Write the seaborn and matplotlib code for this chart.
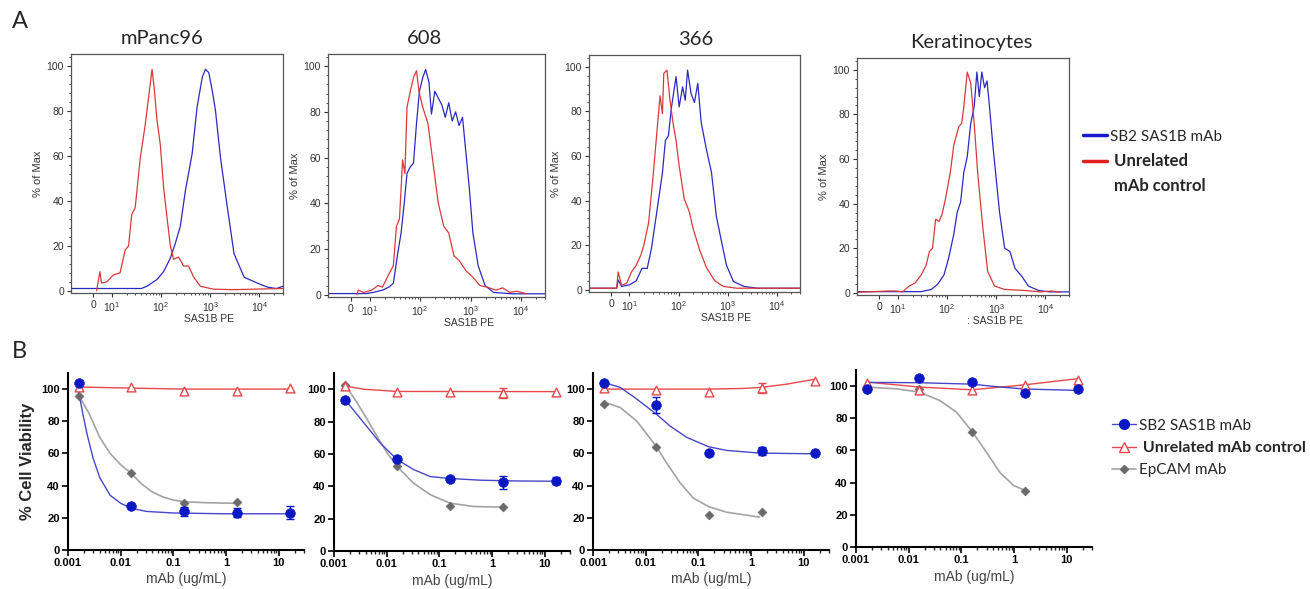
import numpy as np
import seaborn as sns
import matplotlib
matplotlib.use("Agg")
import matplotlib.pyplot as plt
from matplotlib.ticker import (SymmetricalLogLocator, LogLocator, NullFormatter,
                               AutoMinorLocator)
from matplotlib.lines import Line2D

# ---------------- panel A: flow histograms (% of Max vs SAS1B PE) ----------------
hist_titles = ["mPanc96", "608", "366", "Keratinocytes"]
hist_xlabels = ["SAS1B PE", "SAS1B PE", "SAS1B PE", ": SAS1B PE"]
hist_ticks = [0, 10, 100, 1000, 10000]
hist_ticklabels = ["0", r"$\mathregular{10^1}$", r"$\mathregular{10^2}$",
                   r"$\mathregular{10^3}$", r"$\mathregular{10^4}$"]

mpanc_blue_x = [-12, 40, 52, 83, 113, 155, 195, 246, 316, 430, 540, 690, 800, 935,
                1100, 1280, 1620, 2230, 3040, 4880, 9100, 14500, 22000, 30000]
mpanc_blue_y = [1, 1, 2, 5, 8.5, 14.5, 21, 28.5, 45, 61, 81.5, 95, 98.5, 97,
                89, 80, 59, 37, 16.5, 6, 3.4, 1.6, 1, 2]
mpanc_red_x = [1.8, 3.6, 4.5, 7.3, 10.8, 14.8, 18.7, 22, 25.6, 30, 38, 48, 56, 66, 73,
               83, 97, 113, 132, 155, 181, 228, 288, 363, 464, 630, 1170, 3000, 30000]
mpanc_red_y = [0, 8.5, 3.4, 4, 7, 8, 18, 20, 34, 37, 59, 74, 86, 98.5, 90,
               76, 65, 46, 33, 20, 14, 15, 11, 11, 6, 2, 0.7, 0.5, 1]

c608_blue_x = [-12, 8, 11.8, 18, 24, 29.5, 36, 42, 48, 55, 64, 74, 85, 97, 113, 129,
               150, 168, 196, 230, 270, 316, 370, 433, 507, 593, 694, 812, 952, 1115,
               1420, 1940, 2870, 6800, 30000]
c608_blue_y = [0.5, 0.5, 1, 2, 3.3, 5, 18, 27, 39, 53, 56, 57.5, 75, 89, 95, 98.5,
               93, 79, 89, 86, 83, 77.6, 84, 76, 80, 74, 77.6, 62, 46, 27,
               12.7, 4, 1, 0.4, 0.4]
c608_red_x = [3.2, 4, 6.8, 11, 14.6, 18, 24, 29.5, 34, 39, 45, 50, 55, 64, 74, 85, 95,
              113, 143, 182, 230, 294, 370, 470, 593, 812, 1115, 1540, 2150, 3200,
              4350, 6000, 8200, 13000]
c608_red_y = [0, 2, 1, 2, 4, 3.3, 9, 12.7, 30, 33, 59, 53, 82, 89, 95, 98, 89,
              82, 75, 57, 40, 30, 27, 17, 15, 10.5, 7.6, 4, 3.3, 2,
              3, 1, 1.5, 0.4]

c366_blue_x = [-12, 3, 3.8, 5.7, 10, 13.7, 18, 23, 28, 35, 47, 54, 62, 72, 79, 89, 103,
               121, 137, 153, 180, 211, 247, 290, 370, 470, 590, 755, 950, 1320, 2150,
               4100, 30000]
c366_blue_y = [0.7, 0.7, 4.4, 1.5, 2.2, 4, 9.6, 9.6, 18.5, 33, 52.6, 67, 69, 82, 88,
               95.6, 82, 91, 85, 98.5, 88, 84, 92.6, 75, 63, 52.6, 33, 21.5, 11, 3.7,
               1.5, 0.7, 0.7]
c366_red_x = [-12, 3, 3.8, 5.7, 8.5, 11, 13.7, 17, 19.6, 24.5, 30, 35, 42, 47, 50, 58,
              67, 77, 89, 103, 131, 166, 195, 268, 370, 550, 815, 1540, 30000]
c366_red_y = [0.7, 0.7, 8, 2, 3, 8, 11, 15.5, 20, 30, 50, 67, 87, 79, 97, 98.5,
              85, 75, 67, 55.5, 40.7, 35, 28, 18, 10, 4, 1.5, 0.7, 0.7]

ker_blue_x = [-12, 30, 48, 64, 87, 108, 137, 161, 189, 220, 258, 304, 357, 405, 453,
              510, 580, 650, 730, 855, 1000, 1170, 1480, 1900, 2400, 3300, 4500, 7300,
              12000, 30000]
ker_blue_y = [0.5, 0.5, 1.5, 3.7, 8, 15.5, 26, 36, 40.6, 54, 61, 76, 83.5, 99, 88,
              99, 92, 95, 83.5, 66, 51, 36, 20, 18.5, 11, 7.4, 3, 1, 0.4, 0.4]
ker_red_x = [-12, 5, 9, 12.6, 17, 22.6, 30, 38, 44, 51, 59, 69, 79, 93, 117, 137, 174,
             199, 220, 258, 304, 357, 420, 530, 670, 925, 1480, 3900, 8000, 13000,
             20000]
ker_red_y = [0.2, 0.8, 0.8, 0.4, 3, 4.4, 8, 12.5, 18.5, 20, 33, 32, 35, 42, 54, 66,
             74.6, 76, 83.5, 99, 94, 76, 54, 30, 9.6, 3, 1.5, 1, 0.4, 0.8, 0.3]

# ---------------- panel B: viability vs mAb concentration ----------------
conc = [0.0016, 0.016, 0.16, 1.6, 16]
sb2_1 = [104, 27.5, 24, 23.3, 23.3]
sb2_err_1 = [0, 1, 3, 3, 4]
ctrl_1 = [101, 101, 99, 99, 100.5]
ctrl_err_1 = [0, 0, 0, 0, 0]
epcam_1 = [96, 48, 29.5, 29.8]

sb2_2 = [93.5, 57, 44.5, 42.5, 43.5]
sb2_err_2 = [0, 1, 1.5, 4, 2]
ctrl_2 = [102, 98.5, 98.5, 97.5, 98.5]
ctrl_err_2 = [0, 0, 0, 3, 0]
epcam_2 = [102.5, 52.5, 28, 27]

sb2_3 = [103.5, 90, 60, 61.5, 60.5]
sb2_err_3 = [0, 5, 0, 2.5, 0]
ctrl_3 = [100.5, 99.5, 98, 100.5, 105]
ctrl_err_3 = [0, 0, 0, 3, 0]
epcam_3 = [91, 64, 22, 23.5]

sb2_4 = [98, 105, 102.5, 96, 98.5]
sb2_err_4 = [0, 0, 0, 0, 0]
ctrl_4 = [102, 97.5, 97.5, 100.5, 104]
ctrl_err_4 = [0, 0, 0, 0, 0]
epcam_4 = [97.5, 98.5, 71.5, 35]

# fitted curves
sb2_fit_x_1 = [0.0016, 0.0019, 0.0023, 0.003, 0.004, 0.0063, 0.01, 0.016, 0.03, 0.1, 1, 16]
sb2_fit_y_1 = [98, 85, 72, 57, 45, 34, 29, 26, 24, 23, 22.5, 22.5]
ctrl_fit_x_1 = [0.0016, 0.016, 0.16, 16]
ctrl_fit_y_1 = [101.3, 100.6, 100, 100]
ep_fit_x_1 = [0.0016, 0.0025, 0.004, 0.0063, 0.01, 0.016, 0.025, 0.04, 0.063, 0.1, 0.16, 0.4, 1.6]
ep_fit_y_1 = [96, 85, 70, 60, 53, 47.5, 41, 36, 33, 31, 30, 29.4, 29]

sb2_fit_x_2 = [0.0016, 0.0036, 0.0074, 0.0155, 0.032, 0.067, 0.158, 0.61, 2.6, 16]
sb2_fit_y_2 = [93.75, 79.6, 67, 56.7, 50.4, 46, 44.8, 43.75, 43.3, 43.1]
ctrl_fit_x_2 = [0.0016, 0.0036, 0.0155, 16]
ctrl_fit_y_2 = [102, 100, 98.6, 98.5]
ep_fit_x_2 = [0.0016, 0.0027, 0.0042, 0.0065, 0.01, 0.0155, 0.032, 0.067, 0.158, 0.45, 1.6]
ep_fit_y_2 = [103, 92, 81.7, 71, 61, 52.5, 42, 34.8, 29.6, 27.5, 27.1]

sb2_fit_x_3 = [0.0016, 0.0033, 0.0068, 0.016, 0.029, 0.06, 0.155, 0.34, 1.5, 15.3]
sb2_fit_y_3 = [104.2, 101, 93.75, 84.4, 77, 70, 64.2, 61.9, 60.2, 59.8]
ctrl_fit_x_3 = [0.0016, 0.155, 0.7, 1.5, 4.6, 15.3]
ctrl_fit_y_3 = [100, 100, 100.4, 101, 103, 106]
ep_fit_x_3 = [0.0016, 0.0033, 0.0068, 0.016, 0.025, 0.045, 0.08, 0.155, 0.34, 1.45]
ep_fit_y_3 = [92, 88.5, 80, 64.2, 54, 41.7, 32.3, 27, 23.5, 20.4]

sb2_fit_x_4 = [0.0016, 0.016, 0.16, 0.5, 1.6, 16]
sb2_fit_y_4 = [102.3, 102.1, 101.2, 99.5, 98.2, 97.3]
ctrl_fit_x_4 = [0.0016, 0.016, 0.16, 1.6, 16]
ctrl_fit_y_4 = [102.5, 99.4, 97.7, 100.8, 104.6]
ep_fit_x_4 = [0.0016, 0.0059, 0.016, 0.039, 0.081, 0.16, 0.30, 0.54, 0.97, 1.6]
ep_fit_y_4 = [99.4, 98.3, 96.25, 91, 83.75, 71.7, 58.75, 46.25, 38.3, 35.2]

conc_ticks = [0.001, 0.01, 0.1, 1, 10]
conc_ticklabels = ["0.001", "0.01", "0.1", "1", "10"]
viab_ticks = [0, 20, 40, 60, 80, 100]

# ---------------- style ----------------
sns.set_style("ticks")
plt.rcParams["font.family"] = ["Liberation Sans", "DejaVu Sans"]
plt.rcParams["mathtext.fontset"] = "custom"
plt.rcParams["mathtext.rm"] = "Liberation Sans"

HBLUE, HRED = "#2a2abf", "#d83a3a"
BLUE_M, BLUE_L = "#0a18c4", "#4747c8"
RED = "#e8474c"
GRAY_M, GRAY_L = "#6a6a6a", "#a3a3a3"
TXT = "#333333"
LATO = ["Lato", "DejaVu Sans"]

fig = plt.figure(figsize=(13.1, 5.89), dpi=100)
W, H = 1310, 589


def px_axes(left, right, top, bottom):
    return fig.add_axes([left / W, 1 - bottom / H, (right - left) / W, (bottom - top) / H])


hist_boxes = [(71, 283, 54, 293), (328, 545, 54, 297), (589, 800, 55, 292), (857, 1069, 58, 295)]
title_x = [0.43, 0.447, 0.507, 0.54]
hist_data = [(mpanc_blue_x, mpanc_blue_y, mpanc_red_x, mpanc_red_y),
             (c608_blue_x, c608_blue_y, c608_red_x, c608_red_y),
             (c366_blue_x, c366_blue_y, c366_red_x, c366_red_y),
             (ker_blue_x, ker_blue_y, ker_red_x, ker_red_y)]

for box, (bx, by, rx, ry), title, tx, xl in zip(hist_boxes, hist_data, hist_titles,
                                                  title_x, hist_xlabels):
    ax = px_axes(*box)
    sns.lineplot(x=bx, y=by, ax=ax, color=HBLUE, lw=0.9, estimator=None, sort=False)
    sns.lineplot(x=rx, y=ry, ax=ax, color=HRED, lw=0.9, estimator=None, sort=False)
    ax.set_xscale("symlog", linthresh=10, linscale=0.336)
    ax.set_xlim(-12, 30000)
    ax.set_ylim(-1, 105.3)
    ax.set_xticks(hist_ticks)
    ax.set_xticklabels(hist_ticklabels)
    ax.xaxis.set_minor_locator(SymmetricalLogLocator(linthresh=10, base=10,
                                                     subs=np.arange(2, 10)))
    ax.xaxis.set_minor_formatter(NullFormatter())
    ax.set_yticks([0, 20, 40, 60, 80, 100])
    ax.yaxis.set_minor_locator(AutoMinorLocator(5))
    ax.tick_params(axis="both", which="major", labelsize=7.5, colors=TXT, length=3,
                   width=0.8, pad=2)
    ax.tick_params(axis="both", which="minor", length=1.6, width=0.6, colors=TXT)
    for s in ax.spines.values():
        s.set_color("#555555")
        s.set_linewidth(0.9)
    ax.set_ylabel("% of Max", fontsize=8, color=TXT, labelpad=3)
    ax.set_xlabel(xl, fontsize=7.5, color=TXT, labelpad=0)
    ax.xaxis.label.set_x(0.65)
    ax.set_title(title, fontsize=14.5, family=LATO, pad=7, x=tx)

fig.text(12 / W, 1 - 22 / H, "A", fontsize=17, family=LATO, va="center")
fig.text(12 / W, 1 - 352 / H, "B", fontsize=17, family=LATO, va="center")

hA = [Line2D([], [], color="#1a1acc", lw=2.5), Line2D([], [], color="#e02020", lw=2.5),
      Line2D([], [], color="none", lw=0)]
legA = fig.legend(hA, ["SB2 SAS1B mAb", " Unrelated", " mAb control"],
                  loc="center left", bbox_to_anchor=(1083 / W, 1 - 162 / H),
                  frameon=False, borderaxespad=0, borderpad=0, handlelength=1.6,
                  handletextpad=0.2, labelspacing=0.6,
                  prop={"family": LATO, "size": 11})
for t in legA.get_texts()[1:]:
    t.set_fontweight("bold")
    t.set_fontsize(12)

# ---------------- panel B ----------------
via_boxes = [(68, 304, 373, 550), (334, 570, 373, 551), (593, 829, 373, 550), (856, 1092, 370, 547)]
via_data = [
    (sb2_1, sb2_err_1, ctrl_1, ctrl_err_1, epcam_1,
     sb2_fit_x_1, sb2_fit_y_1, ctrl_fit_x_1, ctrl_fit_y_1, ep_fit_x_1, ep_fit_y_1),
    (sb2_2, sb2_err_2, ctrl_2, ctrl_err_2, epcam_2,
     sb2_fit_x_2, sb2_fit_y_2, ctrl_fit_x_2, ctrl_fit_y_2, ep_fit_x_2, ep_fit_y_2),
    (sb2_3, sb2_err_3, ctrl_3, ctrl_err_3, epcam_3,
     sb2_fit_x_3, sb2_fit_y_3, ctrl_fit_x_3, ctrl_fit_y_3, ep_fit_x_3, ep_fit_y_3),
    (sb2_4, sb2_err_4, ctrl_4, ctrl_err_4, epcam_4,
     sb2_fit_x_4, sb2_fit_y_4, ctrl_fit_x_4, ctrl_fit_y_4, ep_fit_x_4, ep_fit_y_4),
]

for i, (box, d) in enumerate(zip(via_boxes, via_data)):
    sb2, sb2e, ctrl, ctrle, ep, sfx, sfy, cfx, cfy, efx, efy = d
    ax = px_axes(*box)
    sns.lineplot(x=efx, y=efy, ax=ax, color=GRAY_L, lw=1.2, estimator=None, sort=False)
    sns.lineplot(x=cfx, y=cfy, ax=ax, color=RED, lw=1.0, estimator=None, sort=False)
    sns.lineplot(x=sfx, y=sfy, ax=ax, color=BLUE_L, lw=1.0, estimator=None, sort=False)
    for vals, errs, col in ((sb2, sb2e, BLUE_M), (ctrl, ctrle, RED)):
        xs = [c for c, e in zip(conc, errs) if e > 0]
        ys = [v for v, e in zip(vals, errs) if e > 0]
        es = [e for e in errs if e > 0]
        if xs:
            ax.errorbar(xs, ys, yerr=es, fmt="none", ecolor=col, elinewidth=1,
                        capsize=3, capthick=1)
    sns.scatterplot(x=conc[:len(ep)], y=ep, ax=ax, marker="D", s=20, color=GRAY_M,
                    edgecolor=GRAY_M, linewidth=0.5, zorder=4)
    sns.scatterplot(x=conc, y=ctrl, ax=ax, marker="^", s=40, facecolor="white",
                    edgecolor=RED, linewidth=1.0, zorder=5)
    sns.scatterplot(x=conc, y=sb2, ax=ax, marker="o", s=48, color=BLUE_M,
                    edgecolor=BLUE_M, linewidth=0.5, zorder=6)
    ax.set_xscale("log")
    ax.set_xlim(0.001, 30)
    ax.set_ylim(0, 110)
    ax.set_xticks(conc_ticks)
    ax.set_xticklabels(conc_ticklabels)
    ax.xaxis.set_minor_locator(LogLocator(base=10, subs=np.arange(2, 10)))
    ax.xaxis.set_minor_formatter(NullFormatter())
    ax.set_yticks(viab_ticks)
    ax.tick_params(axis="both", which="major", labelsize=8, colors="black", length=4,
                   width=1.2, pad=2)
    ax.tick_params(axis="x", which="minor", length=2.5, width=1.0)
    for lbl in ax.get_xticklabels() + ax.get_yticklabels():
        lbl.set_fontweight("bold")
    sns.despine(ax=ax)
    for s in ("left", "bottom"):
        ax.spines[s].set_linewidth(1.5)
        ax.spines[s].set_color("black")
    ax.set_xlabel("mAb (ug/mL)", fontsize=10, color="#444444", labelpad=3)
    if i == 0:
        ax.set_ylabel("% Cell Viability", fontsize=12, fontweight="bold", labelpad=4)
    else:
        ax.set_ylabel("")

hB = [Line2D([], [], color=BLUE_L, lw=1.0, marker="o", ms=7, mfc=BLUE_M, mec=BLUE_M),
      Line2D([], [], color=RED, lw=1.0, marker="^", ms=6.5, mfc="white", mec=RED),
      Line2D([], [], color=GRAY_L, lw=1.2, marker="D", ms=4.5, mfc=GRAY_M, mec=GRAY_M)]
legB = fig.legend(hB, ["SB2 SAS1B mAb", " Unrelated mAb control", "EpCAM mAb"],
                  loc="center left", bbox_to_anchor=(1112 / W, 1 - 448 / H),
                  frameon=False, borderaxespad=0, borderpad=0, handlelength=1.6,
                  handletextpad=0.15, labelspacing=0.55,
                  prop={"family": LATO, "size": 11})
legB.get_texts()[1].set_fontweight("bold")
legB.get_texts()[1].set_fontsize(11.5)

fig.savefig("out.png", dpi=100)
